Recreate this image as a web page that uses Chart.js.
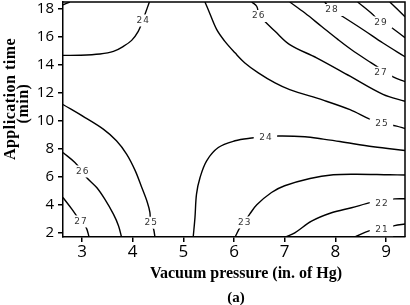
<!DOCTYPE html>
<html><head><meta charset="utf-8">
<script src="https://cdn.jsdelivr.net/npm/chart.js@4"></script>
<style>html,body{margin:0;padding:0;background:#fff}#wrap{width:410px;height:305px;position:relative}</style>
</head><body><div id="wrap"><canvas id="c" width="410" height="305"></canvas></div>
<script>
// axis setup (data units)
const xTicks = [3, 4, 5, 6, 7, 8, 9];
const yTicks = [2, 4, 6, 8, 10, 12, 14, 16, 18];
const xRange = [2.625, 9.375];
const yRange = [1.67, 18.45];

// contour lines: [vacuum pressure, application time]
const c21  = [[8.385,1.67],[8.68,2.12],[8.91,2.25],[9.17,2.48],[9.375,2.6]];
const c22  = [[7.02,1.67],[7.2,1.97],[7.53,2.8],[7.925,3.4],[8.32,3.76],[8.71,4.14],[8.92,4.26],[9.17,4.39],[9.375,4.4]];
const c23  = [[6.02,1.67],[6.12,2.35],[6.2,2.71],[6.31,3.3],[6.45,3.97],[6.74,4.85],[7.0,5.33],[7.5,5.85],[7.96,6.11],[8.42,6.15],[9.07,6.11],[9.375,6.1]];
const c23b = [[2.625,18.25],[2.76,18.45]];
const c24a = [[2.625,14.64],[2.96,14.65],[3.355,14.74],[3.62,14.92],[3.815,15.28],[3.98,15.71],[4.11,16.35],[4.2,17.13],[4.24,17.54],[4.33,18.45]];
const c24b = [[5.195,1.67],[5.23,3.07],[5.26,4.73],[5.33,5.92],[5.46,7.11],[5.69,8.06],[6.02,8.54],[6.31,8.72],[6.62,8.8],[6.87,8.88],[7.4,8.83],[7.76,8.66],[8.09,8.49],[8.75,8.11],[9.375,7.85]];
const c25a = [[2.625,11.13],[3.06,10.2],[3.42,9.37],[3.68,8.54],[3.88,7.59],[4.05,6.41],[4.18,5.2],[4.29,4.14],[4.34,3.43],[4.355,2.69],[4.41,2.28],[4.44,1.67]];
const c25b = [[5.426,18.45],[5.49,17.92],[5.657,16.49],[5.82,15.64],[6.02,14.82],[6.215,14.1],[6.48,13.39],[6.81,12.67],[7.1,12.19],[7.76,11.44],[8.29,10.76],[8.68,10.08],[8.91,9.8],[9.21,9.59],[9.375,9.41]];
const c26a = [[2.625,7.7],[2.86,6.99],[3.006,6.35],[3.09,5.92],[3.29,5.2],[3.45,4.37],[3.62,3.3],[3.72,2.48],[3.78,1.67]];
const c26b = [[6.35,18.45],[6.45,18.13],[6.5,17.45],[6.61,17.06],[6.81,16.36],[7.1,15.41],[7.63,14.46],[8.29,13.15],[8.94,11.86],[9.375,11.36]];
const c27a = [[2.625,4.49],[2.8,3.66],[2.97,2.78],[3.08,2.36],[3.14,1.67]];
const c27b = [[7.1,18.45],[7.4,17.66],[7.73,16.7],[8.055,15.76],[8.32,15.04],[8.71,14.1],[8.89,13.68],[9.14,13.1],[9.375,12.76]];
const c28  = [[7.79,18.45],[7.925,17.9],[8.09,17.54],[8.55,16.47],[8.94,15.52],[9.375,14.54]];
const c29  = [[8.44,18.45],[8.745,17.54],[8.89,16.99],[9.075,16.7],[9.375,15.9]];
const c30  = [[9.075,18.45],[9.375,17.4]];

// contour labels: [text, vacuum pressure, application time]
const contourLabels = [
  ['24',4.2,17.13],['25',4.355,2.69],['26',3.006,6.35],['27',2.97,2.78],
  ['24',6.62,8.74],['23',6.2,2.71],['22',8.91,4.07],['21',8.91,2.16],
  ['25',8.91,9.73],['26',6.48,17.45],['27',8.89,13.4],['28',7.925,17.88],['29',8.89,16.99]
];

const lines = [c21,c22,c23,c23b,c24a,c24b,c25a,c25b,c26a,c26b,c27a,c27b,c28,c29,c30];
const datasets = lines.map(pts => ({
  data: pts.map(p => ({x:p[0], y:p[1]})),
  showLine: true, borderColor:'#000', borderWidth:1.4, pointRadius:0,
  tension:0.35, fill:false
}));

const decor = {
  id:'decor',
  afterDatasetsDraw(chart){
    const {ctx, chartArea:a, scales:{x,y}} = chart;
    ctx.save();
    ctx.font = '9px "DejaVu Sans"';
    ctx.textAlign = 'center'; ctx.textBaseline = 'middle';
    try { ctx.letterSpacing = '1px'; } catch(e) {}
    contourLabels.forEach(l => {
      const px = x.getPixelForValue(l[1]), py = y.getPixelForValue(l[2]);
      const w = ctx.measureText(l[0]).width;
      ctx.fillStyle = '#fff';
      ctx.fillRect(px - w/2 - 5, py - 6, w + 10, 12);
      ctx.fillStyle = '#333';
      ctx.fillText(l[0], px + 0.5, py);
    });
    try { ctx.letterSpacing = '0px'; } catch(e) {}
    ctx.strokeStyle = '#000'; ctx.lineWidth = 1.5;
    ctx.beginPath();
    ctx.moveTo(a.left, a.top); ctx.lineTo(a.right, a.top); ctx.lineTo(a.right, a.bottom);
    ctx.stroke();
    ctx.restore();
  },
  afterDraw(chart){
    const ctx = chart.ctx;
    ctx.save();
    ctx.fillStyle = '#000';
    ctx.textAlign = 'center'; ctx.textBaseline = 'alphabetic';
    ctx.font = 'bold 16px "Liberation Serif"';
    ctx.fillText('Vacuum pressure (in. of Hg)', 246, 278);
    ctx.font = 'bold 15px "Liberation Serif"';
    ctx.fillText('(a)', 236, 302);
    ctx.font = 'bold 16px "Liberation Serif"';
    try { ctx.letterSpacing = '0.5px'; } catch(e) {}
    ctx.save(); ctx.translate(14.5, 99); ctx.rotate(-Math.PI/2);
    ctx.fillText('Application time', 0, 0); ctx.restore();
    ctx.save(); ctx.translate(28, 103.5); ctx.rotate(-Math.PI/2);
    ctx.fillText('(min)', 0, 0); ctx.restore();
    ctx.restore();
  }
};

new Chart(document.getElementById('c'), {
  type:'scatter',
  data:{datasets},
  options:{
    responsive:false, animation:false, devicePixelRatio:1,
    layout:{padding:{left:0,right:5,top:2,bottom:0}},
    plugins:{legend:{display:false}, tooltip:{enabled:false}},
    scales:{
      x:{type:'linear', min:xRange[0], max:xRange[1],
        afterBuildTicks:s=>{s.ticks = xTicks.map(v=>({value:v}));},
        afterFit:s=>{s.height = 68; s.paddingLeft = 0; s.paddingRight = 0;},
        ticks:{color:'#000', font:{family:'"Open Sans"', size:17}, padding:0, maxRotation:0},
        grid:{drawOnChartArea:false, drawTicks:true, tickLength:5, color:'#000', lineWidth:1.5},
        border:{display:true, color:'#000', width:1.5}
      },
      y:{type:'linear', min:yRange[0], max:yRange[1],
        afterBuildTicks:s=>{s.ticks = yTicks.map(v=>({value:v}));},
        afterFit:s=>{s.width = 63; s.paddingTop = 0; s.paddingBottom = 0;},
        ticks:{color:'#000', font:{family:'"Open Sans"', size:15}, padding:4},
        grid:{drawOnChartArea:false, drawTicks:true, tickLength:5, color:'#000', lineWidth:1.5},
        border:{display:true, color:'#000', width:1.5}
      }
    }
  },
  plugins:[decor]
});
</script></body></html>
